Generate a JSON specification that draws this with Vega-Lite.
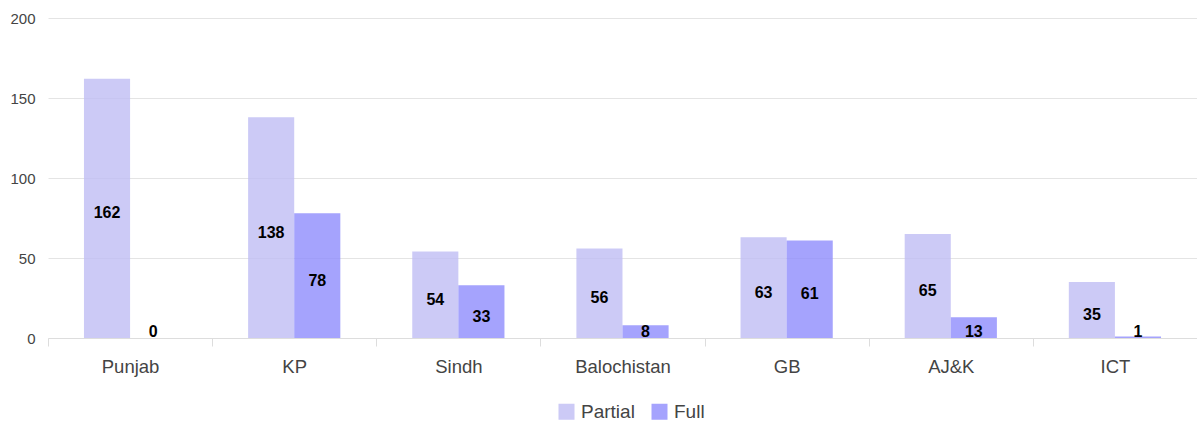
{
  "$schema": "https://vega.github.io/schema/vega-lite/v6.json",
  "width": 1149,
  "height": 320,
  "autosize": {"type": "none"},
  "padding": {"left": 48, "top": 18, "right": 0, "bottom": 83},
  "background": "white",
  "config": {
    "view": {"stroke": null},
    "font": "Liberation Sans"
  },
  "data": {
    "values": [
      {"region": "Punjab", "type": "Partial", "value": 162},
      {"region": "Punjab", "type": "Full", "value": 0},
      {"region": "KP", "type": "Partial", "value": 138},
      {"region": "KP", "type": "Full", "value": 78},
      {"region": "Sindh", "type": "Partial", "value": 54},
      {"region": "Sindh", "type": "Full", "value": 33},
      {"region": "Balochistan", "type": "Partial", "value": 56},
      {"region": "Balochistan", "type": "Full", "value": 8},
      {"region": "GB", "type": "Partial", "value": 63},
      {"region": "GB", "type": "Full", "value": 61},
      {"region": "AJ&K", "type": "Partial", "value": 65},
      {"region": "AJ&K", "type": "Full", "value": 13},
      {"region": "ICT", "type": "Partial", "value": 35},
      {"region": "ICT", "type": "Full", "value": 1}
    ]
  },
  "encoding": {
    "x": {
      "field": "region",
      "type": "nominal",
      "sort": null,
      "scale": {"paddingInner": 0, "paddingOuter": 0},
      "axis": {
        "title": null,
        "labelAngle": 0,
        "labelFontSize": 18.5,
        "labelColor": "#444444",
        "labelPadding": 11,
        "tickBand": "extent",
        "tickSize": 8,
        "tickColor": "#dddddd",
        "domainColor": "#dddddd",
        "grid": false
      }
    },
    "xOffset": {
      "field": "type",
      "type": "nominal",
      "sort": ["Partial", "Full"],
      "scale": {"paddingOuter": 0.78, "paddingInner": 0}
    }
  },
  "layer": [
    {
      "mark": {"type": "bar", "opacity": 0.8},
      "encoding": {
        "y": {
          "field": "value",
          "type": "quantitative",
          "scale": {"domain": [0, 200]},
          "axis": {
            "title": null,
            "values": [0, 50, 100, 150, 200],
            "labelFontSize": 15,
            "labelColor": "#444444",
            "labelPadding": 13,
            "ticks": false,
            "domain": false,
            "gridColor": "#e4e4e4"
          }
        },
        "color": {
          "field": "type",
          "type": "nominal",
          "sort": ["Partial", "Full"],
          "scale": {"domain": ["Partial", "Full"], "range": ["#bfbdf4", "#8e8cfc"]},
          "legend": {
            "title": null,
            "orient": "none",
            "direction": "horizontal",
            "legendX": 509,
            "legendY": 384,
            "symbolType": "square",
            "symbolSize": 256,
            "symbolOpacity": 0.8,
            "labelFontSize": 19,
            "labelColor": "#444444",
            "labelOffset": 5,
            "columnPadding": 15
          }
        }
      }
    },
    {
      "transform": [{"calculate": "max(datum.value / 2, 6.6)", "as": "mid"}],
      "mark": {"type": "text", "fontWeight": "bold", "fontSize": 16, "color": "#000000", "dy": 5},
      "encoding": {
        "y": {"field": "mid", "type": "quantitative", "scale": {"domain": [0, 200]}},
        "text": {"field": "value", "type": "quantitative"}
      }
    }
  ]
}
